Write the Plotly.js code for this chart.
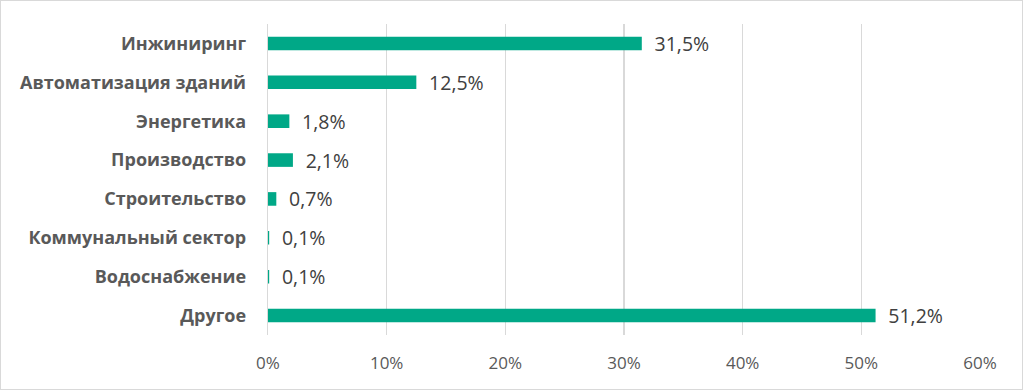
<!DOCTYPE html>
<html>
<head>
<meta charset="utf-8">
<script src="https://cdn.plot.ly/plotly-3.0.1.min.js"></script>
<style>
html,body{margin:0;padding:0;background:#fff;}
#wrap{position:relative;width:1023px;height:390px;}
#chart{position:absolute;left:0;top:0;width:1023px;height:390px;}
#frame{position:absolute;left:0;top:0;width:1021px;height:388px;border:1px solid #d9d9d9;pointer-events:none;}
</style>
</head>
<body>
<div id="wrap"><div id="chart"></div><div id="frame"></div></div>
<script>
const categories = ["Инжиниринг","Автоматизация зданий","Энергетика","Производство","Строительство","Коммунальный сектор","Водоснабжение","Другое"];
const values = [31.5, 12.5, 1.8, 2.1, 0.7, 0.1, 0.1, 51.2];
const xTickVals = [0, 10, 20, 30, 40, 50, 60];
const xTickText = ["0%","10%","20%","30%","40%","50%","60%"];

const fontFam = "'Open Sans', 'Noto Sans', sans-serif";

const trace = {
  type: 'bar',
  orientation: 'h',
  y: categories,
  x: values,
  marker: {color: '#00A887'},
  width: 0.35,
  text: values.map(v => '\u2002' + v.toFixed(1).replace('.', ',') + '%'),
  textposition: 'outside',
  constraintext: 'none',
  cliponaxis: false,
  textfont: {family: fontFam, size: 19.5, color: '#404040'},
  hoverinfo: 'none'
};

const layout = {
  width: 1023, height: 390,
  margin: {l: 268, r: 43, t: 24, b: 55},
  paper_bgcolor: '#fff', plot_bgcolor: '#fff',
  showlegend: false,
  xaxis: {
    range: [0, 60],
    tickvals: xTickVals, ticktext: xTickText,
    showgrid: true, gridcolor: '#d9d9d9', gridwidth: 1.3,
    zeroline: false, showline: false,
    ticks: '', ticklabelstandoff: 16,
    tickfont: {family: fontFam, size: 17, color: '#595959'},
    fixedrange: true
  },
  yaxis: {
    autorange: 'reversed',
    type: 'category',
    showline: true, linecolor: '#d9d9d9', linewidth: 1.3,
    showgrid: false, zeroline: false,
    ticks: '', ticklabelstandoff: 17,
    tickfont: {family: fontFam, size: 18, color: '#595959', weight: 'bold'},
    fixedrange: true
  },
  font: {family: fontFam}
};

Plotly.newPlot('chart', [trace], layout, {displayModeBar: false, staticPlot: true});
</script>
</body>
</html>
